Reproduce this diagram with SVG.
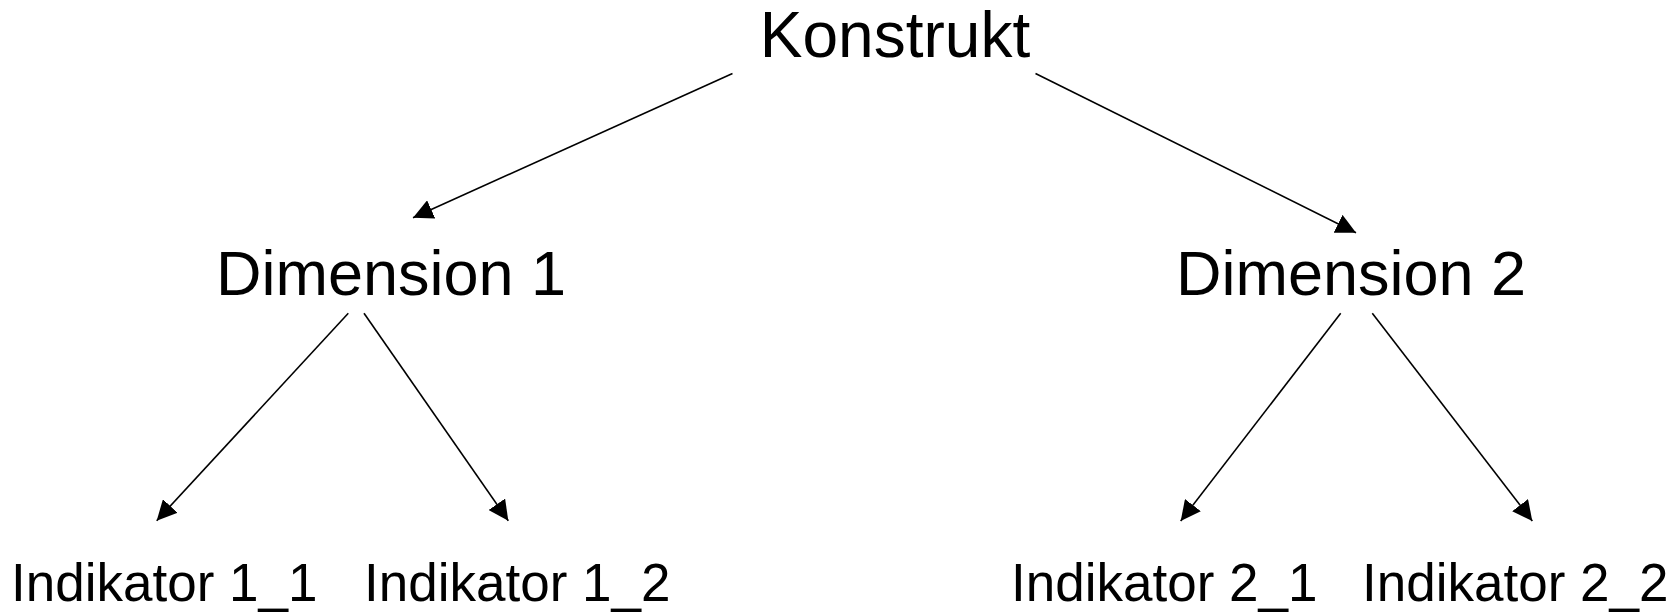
<svg xmlns="http://www.w3.org/2000/svg" width="1679" height="612" viewBox="0 0 1679 612">
  <style>
    text { font-family: "Liberation Sans", Arial, sans-serif; fill: #000; }
    .big { font-size: 64px; }
    .dim { font-size: 63px; }
    .small { font-size: 53px; }
    .edge { stroke: #000; stroke-width: 1.6; fill: none; marker-end: url(#arrow); }
  </style>
  <defs>
    <marker id="arrow" viewBox="0 0 20 20" refX="20" refY="10" markerWidth="20" markerHeight="20" markerUnits="userSpaceOnUse" orient="auto">
      <path d="M0,0 L20,10 L0,20 Z" fill="#000"/>
    </marker>
  </defs>
  <rect width="1679" height="612" fill="#fff"/>
  <g id="connectors">
    <line class="edge" x1="732.5" y1="73.5" x2="413" y2="217.7"/>
    <line class="edge" x1="1035.5" y1="73.5" x2="1356" y2="232.7"/>
    <line class="edge" x1="348.3" y1="313.3" x2="156.7" y2="520.7"/>
    <line class="edge" x1="364" y1="313.3" x2="508.3" y2="520.7"/>
    <line class="edge" x1="1340.7" y1="313.3" x2="1180.7" y2="521"/>
    <line class="edge" x1="1372.3" y1="313.3" x2="1532.3" y2="521"/>
  </g>
  <g id="konstrukt"><text class="big" x="895" y="57" text-anchor="middle">Konstrukt</text></g>
  <g id="dimension1"><text class="dim" x="391" y="294.5" text-anchor="middle">Dimension 1</text></g>
  <g id="dimension2"><text class="dim" x="1351" y="294.5" text-anchor="middle">Dimension 2</text></g>
  <g id="indikator11"><text class="small" x="11" y="601">Indikator 1_1</text></g>
  <g id="indikator12"><text class="small" x="364" y="601">Indikator 1_2</text></g>
  <g id="indikator21"><text class="small" x="1011" y="601">Indikator 2_1</text></g>
  <g id="indikator22"><text class="small" x="1362" y="601">Indikator 2_2</text></g>
</svg>
